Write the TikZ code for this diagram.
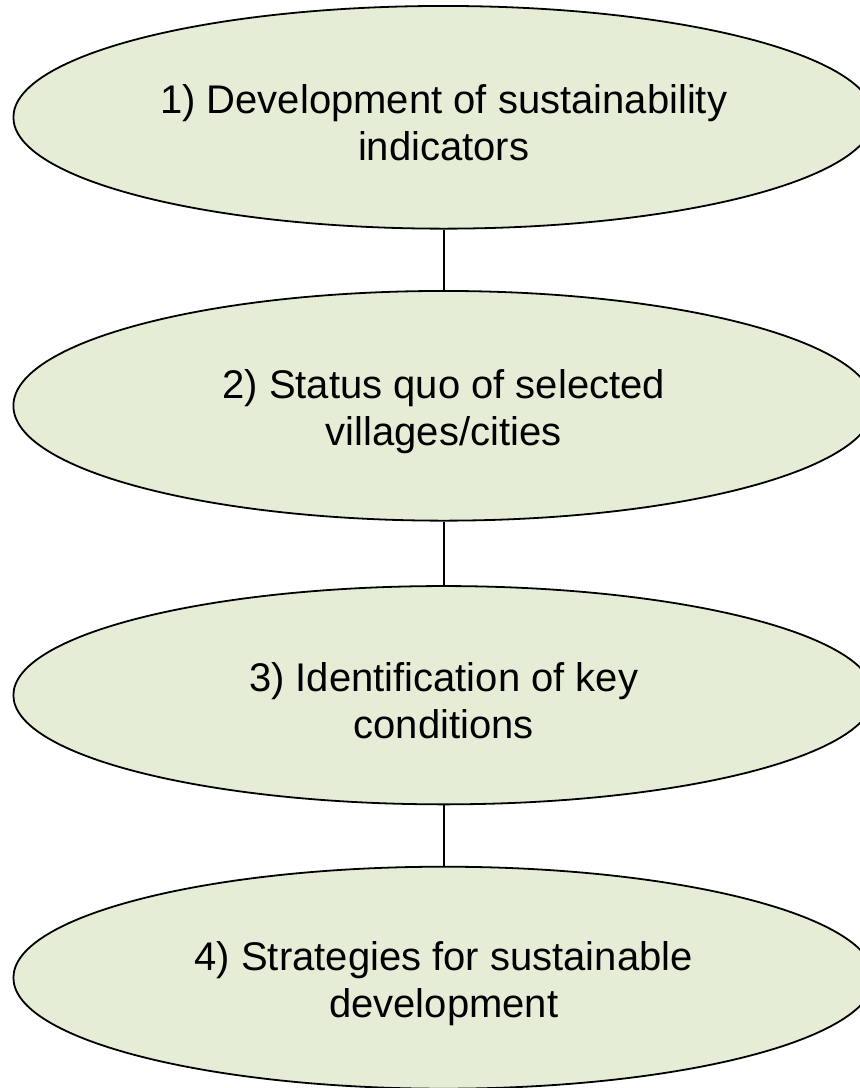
\documentclass[tikz,border=0pt]{standalone}
\usepackage{fontspec}
\setmainfont{Liberation Sans}
\usetikzlibrary{shapes.geometric}
\definecolor{ellfill}{HTML}{E5EDD7}
\tikzset{
  stage/.style={ellipse, draw=black, line width=1.8pt, fill=ellfill,
    inner sep=0pt, minimum width=860.6pt, align=center,
    font=\fontsize{40}{47}\selectfont},
  link/.style={draw=black, line width=1.8pt}
}
\newcommand{\topstrut}{\rule{0pt}{40pt}}
\begin{document}
\begin{tikzpicture}[x=1pt,y=-1pt]
\useasboundingbox (0,0) rectangle (860,1088);
\clip (0,0) rectangle (860,1088);
\node[stage, minimum height=222.7pt] (e1) at (443.7,117.3) {\topstrut 1) Development of sustainability\\indicators};
\node[stage, minimum height=229.7pt] (e2) at (443.7,405.8) {\topstrut 2) Status quo of selected\\villages/cities};
\node[stage, minimum height=218.3pt] (e3) at (443.7,695.2) {\topstrut 3) Identification of key\\conditions};
\node[stage, minimum height=222pt] (e4) at (443.7,977.7) {\topstrut 4) Strategies for sustainable\\development};
\draw[link] (e1.south) -- (e2.north);
\draw[link] (e2.south) -- (e3.north);
\draw[link] (e3.south) -- (e4.north);
\end{tikzpicture}
\end{document}
